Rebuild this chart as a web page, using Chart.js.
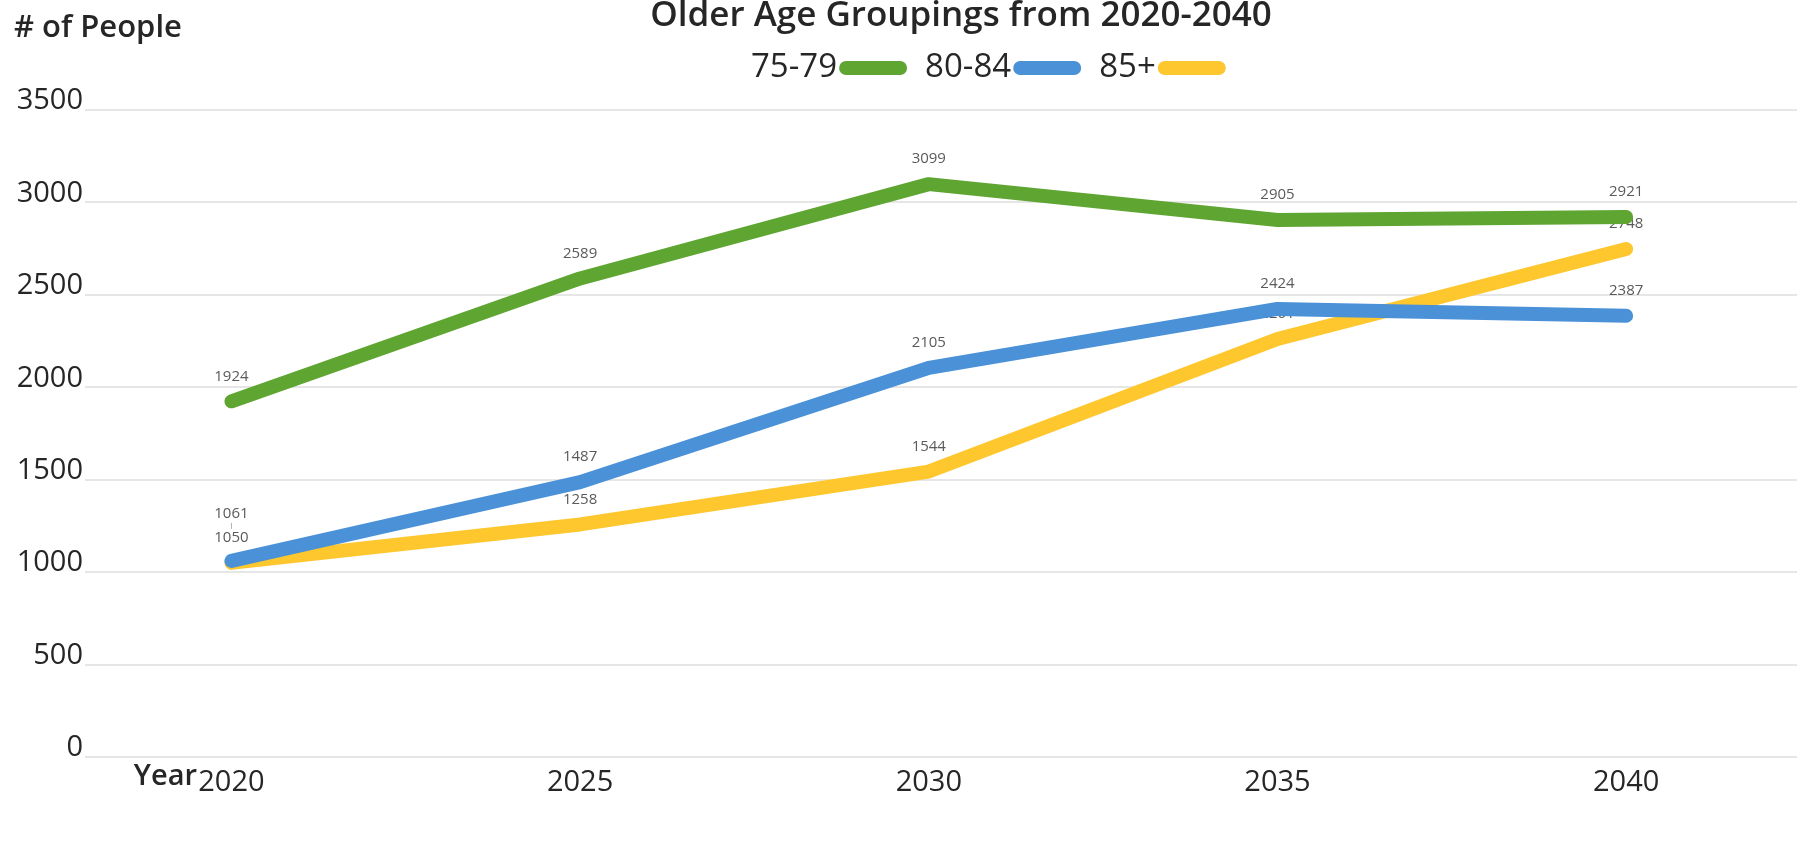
<!DOCTYPE html>
<html>
<head>
<meta charset="utf-8">
<script src="https://cdn.jsdelivr.net/npm/chart.js@4"></script>
<style>
  body { margin: 0; background: #fff; }
  #wrap { position: relative; width: 1805px; height: 850px; }
</style>
</head>
<body>
<div id="wrap"><canvas id="ageLine"></canvas></div>
<script>
// data
const years = [2020, 2025, 2030, 2035, 2040];
const age7579 = [1924, 2589, 3099, 2905, 2921];
const age8084 = [1061, 1487, 2105, 2424, 2387];
const age85plus = [1050, 1258, 1544, 2261, 2748];
const seriesLabels = ['75-79', '80-84', '85+'];

const titleText = 'Older Age Groupings from 2020-2040';
const yTitle = '# of People';
const xTitle = 'Year';

// colors
const green = '#5fa532';
const blue = '#4a91d8';
const yellow = '#fec72e';
const textColor = '#262626';
const labelColor = '#5a5a5a';
const gridColor = '#e6e6e6';
const fontName = "'Open Sans', 'Noto Sans', sans-serif";

const toPoints = (vals) => vals.map((v, i) => ({ x: years[i], y: v }));

// title, axis names and legend drawn on the canvas
const decorPlugin = {
    id: 'decor',
    afterDraw(chart) {
        const ctx = chart.ctx;
        ctx.save();
        ctx.fillStyle = textColor;
        ctx.textBaseline = 'alphabetic';

        ctx.font = '600 35px ' + fontName;
        ctx.textAlign = 'center';
        ctx.fillText(titleText, 961, 26);

        ctx.textAlign = 'left';
        ctx.font = '600 31px ' + fontName;
        ctx.fillText(yTitle, 14, 37);

        ctx.font = '600 29px ' + fontName;
        ctx.textAlign = 'right';
        ctx.fillText(xTitle, 197, 785);

        // legend: text then a rounded bar
        ctx.font = '33px ' + fontName;
        ctx.textAlign = 'left';
        ctx.textBaseline = 'middle';
        let x = 751;
        const yMid = 68;
        chart.data.datasets.forEach((ds) => {
            ctx.fillStyle = textColor;
            ctx.fillText(ds.label, x, yMid);
            x += ctx.measureText(ds.label).width + 2;
            ctx.fillStyle = ds.borderColor;
            ctx.beginPath();
            ctx.roundRect(x, yMid - 7, 68, 14, 7);
            ctx.fill();
            x += 68 + 18;
        });
        ctx.restore();
    }
};

// value labels above points, drawn right after each line
const valueLabelPlugin = {
    id: 'valueLabels',
    beforeDraw(chart) { chart.$labelBoxes = []; },
    afterDatasetDraw(chart, args) {
        const ctx = chart.ctx;
        const ds = chart.data.datasets[args.index];
        const boxes = chart.$labelBoxes;
        ctx.save();
        ctx.font = '15px ' + fontName;
        ctx.fillStyle = labelColor;
        ctx.textAlign = 'center';
        ctx.textBaseline = 'middle';
        args.meta.data.forEach((pt, i) => {
            const txt = String(ds.data[i].y);
            const w = ctx.measureText(txt).width;
            const h = 16;
            let cy = pt.y - 25;
            let moved = null;
            boxes.forEach((b) => {
                if (Math.abs(b.x - pt.x) < w && Math.abs(b.y - cy) < h) {
                    moved = b;
                    cy = b.y - h - 8;
                }
            });
            if (moved) {
                ctx.strokeStyle = '#b0b0b0';
                ctx.lineWidth = 1;
                ctx.beginPath();
                ctx.moveTo(pt.x, cy + h / 2 + 1);
                ctx.lineTo(pt.x, moved.y - h / 2 - 1);
                ctx.stroke();
            }
            ctx.fillText(txt, pt.x, cy);
            boxes.push({ x: pt.x, y: cy });
        });
        ctx.restore();
    }
};

const lineStyle = {
    fill: false,
    borderWidth: 14,
    borderCapStyle: 'round',
    borderJoinStyle: 'round',
    pointRadius: 0,
    tension: 0
};

new Chart(document.getElementById('ageLine'), {
    type: 'line',
    data: {
        datasets: [
            { label: seriesLabels[0], data: toPoints(age7579), borderColor: green, backgroundColor: green, ...lineStyle },
            { label: seriesLabels[1], data: toPoints(age8084), borderColor: blue, backgroundColor: blue, ...lineStyle },
            { label: seriesLabels[2], data: toPoints(age85plus), borderColor: yellow, backgroundColor: yellow, ...lineStyle }
        ]
    },
    options: {
        responsive: true,
        maintainAspectRatio: false,
        animation: false,
        layout: { padding: { left: 0, right: 8, top: 110, bottom: 0 } },
        plugins: {
            legend: { display: false },
            title: { display: false },
            tooltip: { enabled: false }
        },
        scales: {
            x: {
                type: 'linear',
                min: 2017.9,
                max: 2042.45,
                afterBuildTicks: (scale) => { scale.ticks = years.map((v) => ({ value: v })); },
                afterFit: (scale) => { scale.height = 93; },
                grid: { display: false },
                border: { display: false },
                ticks: {
                    padding: 0,
                    color: textColor,
                    font: { family: fontName, size: 29 },
                    callback: (v) => String(v),
                    maxRotation: 0,
                    autoSkip: false
                }
            },
            y: {
                min: 0,
                max: 3500,
                afterFit: (scale) => { scale.width = 85; },
                grid: { color: gridColor, lineWidth: 2, drawTicks: false },
                border: { display: false },
                ticks: {
                    stepSize: 500,
                    padding: 2,
                    labelOffset: -9,
                    color: textColor,
                    font: { family: fontName, size: 29 },
                    callback: (v) => String(v)
                }
            }
        }
    },
    plugins: [valueLabelPlugin, decorPlugin]
});
</script>
</body>
</html>
